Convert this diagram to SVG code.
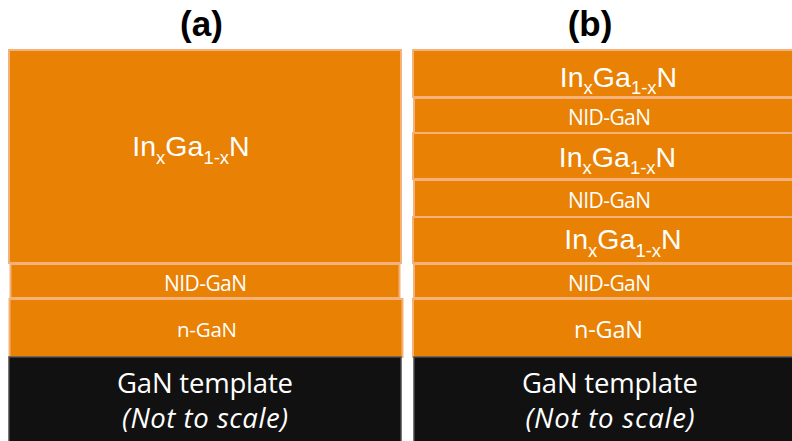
<svg xmlns="http://www.w3.org/2000/svg" width="792" height="441" viewBox="0 0 792 441">
<style>
.layer{fill:#E88104;stroke:#F4B27A;stroke-width:2}
.base{fill:#111111;stroke:#4a4a4a;stroke-width:1.5}
.title{font-family:"Liberation Sans",Arial,sans-serif;font-weight:bold;font-size:35px;fill:#000;text-anchor:middle}
.ingan{font-family:"Liberation Sans",Arial,sans-serif;font-size:28.5px;fill:#fff;text-anchor:middle}
.sub{font-size:18.5px}
.lbl{font-family:"Open Sans","Noto Sans",sans-serif;fill:#fff;text-anchor:middle}
</style>
<rect width="792" height="441" fill="#fff"/>
<text class="title" x="201.5" y="36">(a)</text>
<text class="title" x="590" y="36">(b)</text>

<g id="a-ingan">
<rect class="layer" x="9" y="50" width="392" height="213"/>
<text class="ingan" x="191" y="156">In<tspan class="sub" dy="8">x</tspan><tspan dy="-8">Ga</tspan><tspan class="sub" dy="8">1-x</tspan><tspan dy="-8">N</tspan></text>
</g>
<g id="a-nid">
<rect class="layer" x="10.5" y="264" width="389" height="34"/>
<text class="lbl" x="205.5" y="291" font-size="21" textLength="83">NID-GaN</text>
</g>
<g id="a-ngan">
<rect class="layer" x="9.5" y="299" width="393" height="58"/>
<text class="lbl" x="207" y="337" font-size="20.5" textLength="60">n-GaN</text>
</g>
<g id="a-template">
<rect class="base" x="9" y="357" width="392" height="90"/>
<text class="lbl" x="205" y="393" font-size="27.5" textLength="176">GaN template</text>
<text class="lbl" x="205" y="428" font-size="27.5" font-style="italic" textLength="166">(Not to scale)</text>
</g>

<g id="b-ingan1">
<rect class="layer" x="413" y="50" width="390" height="47"/>
<text class="ingan" x="618.5" y="87">In<tspan class="sub" dy="7">x</tspan><tspan dy="-7">Ga</tspan><tspan class="sub" dy="7">1-x</tspan><tspan dy="-7">N</tspan></text>
</g>
<g id="b-nid1">
<rect class="layer" x="414" y="98" width="390" height="35"/>
<text class="lbl" x="609.5" y="124.5" font-size="21" textLength="83">NID-GaN</text>
</g>
<g id="b-ingan2">
<rect class="layer" x="413" y="133" width="390" height="46"/>
<text class="ingan" x="617.5" y="167">In<tspan class="sub" dy="7">x</tspan><tspan dy="-7">Ga</tspan><tspan class="sub" dy="7">1-x</tspan><tspan dy="-7">N</tspan></text>
</g>
<g id="b-nid2">
<rect class="layer" x="414" y="180" width="390" height="37"/>
<text class="lbl" x="609.5" y="208.3" font-size="21" textLength="83">NID-GaN</text>
</g>
<g id="b-ingan3">
<rect class="layer" x="413" y="217" width="390" height="46"/>
<text class="ingan" x="623" y="249">In<tspan class="sub" dy="8">x</tspan><tspan dy="-8">Ga</tspan><tspan class="sub" dy="8">1-x</tspan><tspan dy="-8">N</tspan></text>
</g>
<g id="b-nid3">
<rect class="layer" x="414" y="264" width="390" height="34"/>
<text class="lbl" x="609.5" y="291" font-size="21" textLength="83">NID-GaN</text>
</g>
<g id="b-ngan">
<rect class="layer" x="413" y="299" width="390" height="58"/>
<text class="lbl" x="608.5" y="338" font-size="23.5" textLength="69">n-GaN</text>
</g>
<g id="b-template">
<rect class="base" x="414" y="357" width="390" height="90"/>
<text class="lbl" x="610" y="393" font-size="27.5" textLength="176">GaN template</text>
<text class="lbl" x="610" y="428" font-size="27.5" font-style="italic" textLength="169">(Not to scale)</text>
</g>
<g id="connectors"/>
</svg>
